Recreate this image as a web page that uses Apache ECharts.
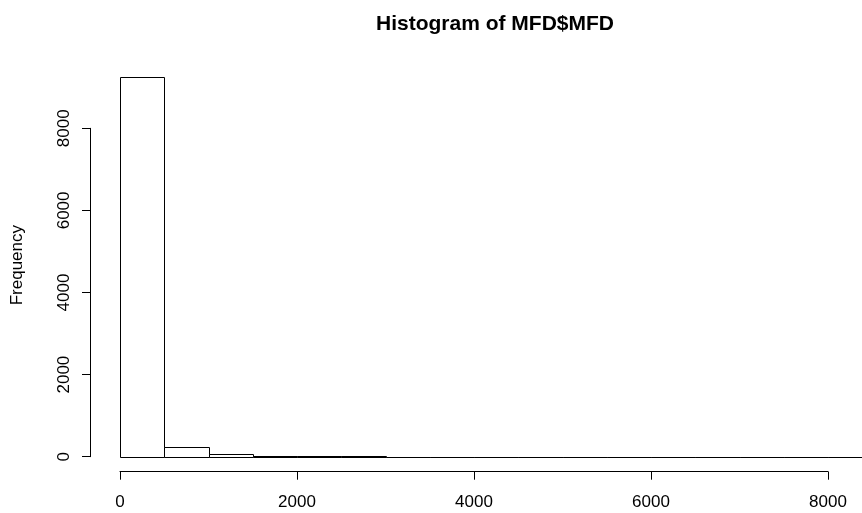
<!DOCTYPE html>
<html>
<head>
<meta charset="utf-8">
<script src="https://cdn.jsdelivr.net/npm/echarts@6/dist/echarts.min.js"></script>
<style>html,body{margin:0;padding:0;background:#fff;}#c{width:862px;height:513px;}</style>
</head>
<body>
<div id="c"></div>
<script>
var titleText = "Histogram of MFD$MFD";
var yName = "Frequency";
var binStarts = [0,500,1000,1500,2000,2500,3000,3500,4000,4500,5000,5500,6000,6500,7000,7500,8000];
var binEnds   = [500,1000,1500,2000,2500,3000,3500,4000,4500,5000,5500,6000,6500,7000,7500,8000,8500];
var counts    = [9250,245,55,22,10,8,2,1,1,0,1,0,0,0,0,0,1];
var xTicks = [0,2000,4000,6000,8000];
var yTicks = [0,2000,4000,6000,8000];

var data = binStarts.map(function(s,i){ return [s, binEnds[i], counts[i]]; });
var FONT = "Liberation Sans, Arial, sans-serif";
var plain = function(v){ return String(v); };
var chart = echarts.init(document.getElementById('c'), null, {renderer:'canvas'});
chart.setOption({
  animation:false,
  backgroundColor:'#fff',
  title:{text:titleText, left:490, textAlign:'center', top:9,
    textStyle:{fontFamily:FONT, fontWeight:'bold', fontSize:21, color:'#000'}},
  graphic:[{type:'text', left:9, top:225, rotation:Math.PI/2,
    style:{text:yName, font:'17px Liberation Sans, Arial, sans-serif', fill:'#000'}}],
  grid:[
    {left:120, top:128.3, width:742, height:328.4},
    {left:120, top:128.3, width:708, height:328.4}
  ],
  xAxis:[
    {gridIndex:0, type:'value', min:0, max:742/708*8000, show:false},
    {gridIndex:1, type:'value', min:xTicks[0], max:xTicks[xTicks.length-1], interval:2000, offset:15,
     position:'bottom',
     axisLine:{show:true, onZero:false, lineStyle:{color:'#000', width:1}},
     axisTick:{show:true, length:8, lineStyle:{color:'#000'}},
     splitLine:{show:false},
     axisLabel:{fontFamily:FONT, fontSize:17, color:'#000', margin:22, formatter:plain,
       showMinLabel:true, showMaxLabel:true}}
  ],
  yAxis:[
    {gridIndex:0, type:'value', min:yTicks[0], max:yTicks[yTicks.length-1], interval:2000, offset:30,
     axisLine:{show:true, onZero:false, lineStyle:{color:'#000', width:1}},
     axisTick:{show:true, length:8, lineStyle:{color:'#000'}},
     splitLine:{show:false},
     axisLabel:{fontFamily:FONT, fontSize:17, color:'#000', rotate:90, margin:17, formatter:plain,
       showMinLabel:true, showMaxLabel:true}},
    {gridIndex:1, type:'value', min:0, max:8000, show:false}
  ],
  series:[{
    type:'custom', xAxisIndex:0, yAxisIndex:0, clip:false,
    data:data,
    encode:{x:[0,1], y:2},
    renderItem:function(params, api){
      var p0 = api.coord([api.value(0), api.value(2)]);
      var p1 = api.coord([api.value(1), 0]);
      return {type:'rect',
        shape:{x:Math.round(p0[0])+0.5, y:Math.round(p0[1])+0.5,
               width:Math.round(p1[0])-Math.round(p0[0]), height:Math.round(p1[1])-Math.round(p0[1])},
        style:{fill:'#fff', stroke:'#000', lineWidth:1}};
    }
  }]
});
</script>
</body>
</html>
